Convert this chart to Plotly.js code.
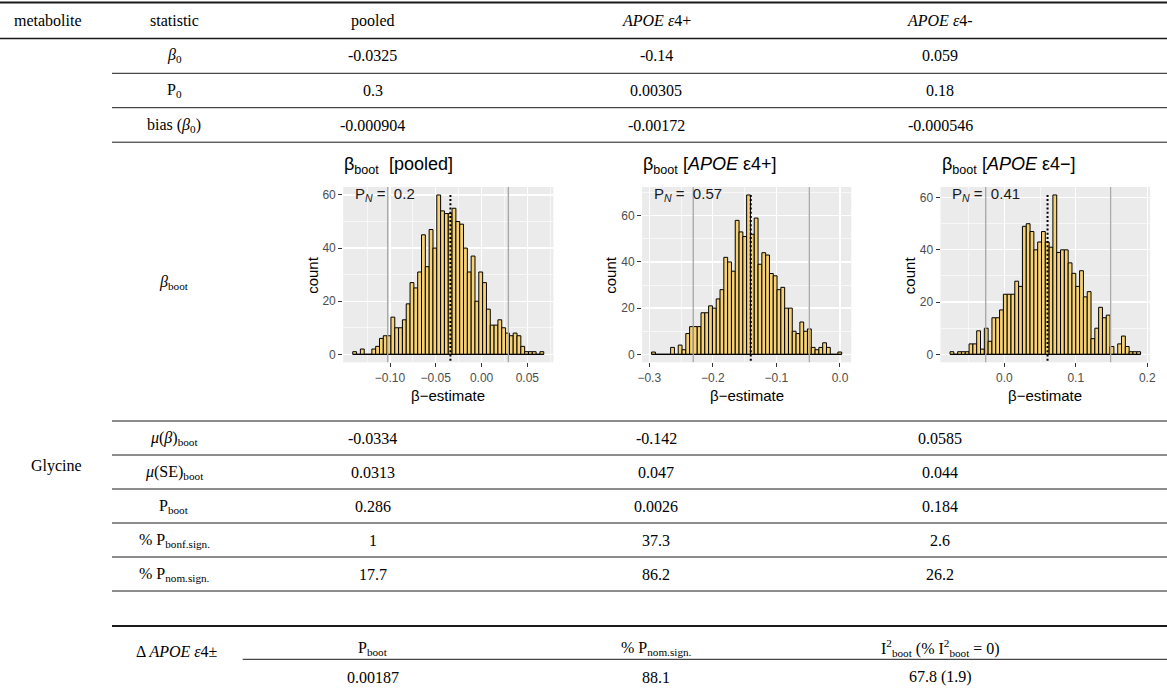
<!DOCTYPE html>
<html><head><meta charset="utf-8">
<script src="https://cdn.plot.ly/plotly-3.0.1.min.js"></script>
<style>html,body{margin:0;padding:0;background:#fff;}#chart{width:1167px;height:693px;}</style>
</head><body><div id="chart"></div>
<script>
// ---------------- data ----------------
const groups = ['pooled', 'APOE ε4+', 'APOE ε4-'];
const pooledCounts = [1,0,2,0,0,2,3,6,7,7,14,10,10,13,19,27,25,31,45,33,47,40,60,54,53,53,55,50,49,40,31,37,20,31,27,17,11,11,13,10,8,7,8,7,3,1,1,1,0,1];
const apoePlusCounts = [1,0,0,0,0,3,0,4,2,9,12,12,12,18,18,21,20,24,28,42,40,36,58,53,51,69,52,59,39,44,43,35,34,28,29,20,20,10,9,14,10,11,3,2,3,5,3,0,0,1];
const apoeMinusCounts = [1,0,1,1,1,4,4,9,2,10,5,14,14,17,23,23,23,28,26,49,50,47,40,43,47,43,41,61,39,40,40,35,31,26,32,22,24,6,10,18,14,15,3,0,4,7,3,1,1,1];
const binStart = [-0.1407, -0.2963, -0.0759];
const binWidth = [0.004173, 0.00598, 0.00533];
const ciLow = [-0.1025, -0.2308, -0.0260];
const ciHigh = [0.0293, -0.0483, 0.1488];
const centerLine = [-0.0340, -0.1403, 0.0605];
const pN = ['0.2', '0.57', '0.41'];
const xTickVals = [[-0.10,-0.05,0.00,0.05], [-0.3,-0.2,-0.1,0.0], [0.0,0.1,0.2]];
const xTickText = [['−0.10','−0.05','0.00','0.05'], ['−0.3','−0.2','−0.1','0.0'], ['0.0','0.1','0.2']];
const yTickVals = [0,20,40,60];
const yTickText = ['0','20','40','60'];
const plotTitles = ['β<sub>boot</sub>  [pooled]', 'β<sub>boot</sub> [<i>APOE</i> ε4+]', 'β<sub>boot</sub> [<i>APOE</i> ε4−]'];

const headerCols = ['metabolite', 'statistic', 'pooled', '<i>APOE ε</i>4+', '<i>APOE ε</i>4-'];
const metabolite = 'Glycine';
const topStats = ['<i>β</i><sub>0</sub>', 'P<sub>0</sub>', 'bias (<i>β</i><sub>0</sub>)'];
const topValues = [
  ['-0.0325', '-0.14', '0.059'],
  ['0.3', '0.00305', '0.18'],
  ['-0.000904', '-0.00172', '-0.000546']
];
const histStat = '<i>β</i><sub>boot</sub>';
const lowStats = ['<i>μ</i>(<i>β</i>)<sub>boot</sub>', '<i>μ</i>(SE)<sub>boot</sub>', 'P<sub>boot</sub>', '% P<sub>bonf.sign.</sub>', '% P<sub>nom.sign.</sub>'];
const lowValues = [
  ['-0.0334', '-0.142', '0.0585'],
  ['0.0313', '0.047', '0.044'],
  ['0.286', '0.0026', '0.184'],
  ['1', '37.3', '2.6'],
  ['17.7', '86.2', '26.2']
];
const deltaLabel = 'Δ <i>APOE ε</i>4±';
const deltaHeaders = ['P<sub>boot</sub>', '% P<sub>nom.sign.</sub>', 'I<sup>2</sup><sub>boot</sub> (% I<sup>2</sup><sub>boot</sub> = 0)'];
const deltaValues = ['0.00187', '88.1', '67.8 (1.9)'];

// ---------------- layout helpers ----------------
const W = 1167, H = 693;
const fx = p => p / W;
const fy = p => 1 - p / H;
const serif = 'Liberation Serif, DejaVu Serif, serif';
const sans = 'Liberation Sans, Arial, sans-serif';
const TXT = 16;

const colX = [48, 174, 373, 656, 940];
const panelL = [343.2, 642.1, 940.5];
const panelR = [553.3, 851.2, 1150.1];
const panelT = 187, panelB = 362.3;

const annotations = [];
const shapes = [];
function cell(text, x, y, size, extra) {
  annotations.push(Object.assign({
    text: text, x: fx(x), y: fy(y), xref: 'paper', yref: 'paper',
    xanchor: 'center', yanchor: 'middle', showarrow: false,
    font: {family: serif, size: size || TXT, color: '#000'}
  }, extra || {}));
}
function hline(y, x0, x1, w) {
  shapes.push({type: 'line', xref: 'paper', yref: 'paper', x0: fx(x0), x1: fx(x1), y0: fy(y), y1: fy(y),
    line: {color: '#1a1a1a', width: w}});
}

// header
headerCols.forEach((t, i) => cell(t, colX[i], 20.5));
hline(2.5, 0, W, 2);
hline(38.5, 0, W, 1.3);
// top rows
const topY = [55.5, 90.5, 125];
topStats.forEach((s, r) => {
  cell(s, colX[1], topY[r]);
  topValues[r].forEach((v, c) => cell(v, colX[c + 2], topY[r]));
});
[73.3, 107.7, 142.2].forEach(y => hline(y, 112, W, 1));
cell(histStat, colX[1], 282);
hline(421, 112, W, 1);
const lowY = [438, 472, 506, 540, 574];
lowStats.forEach((s, r) => {
  cell(s, colX[1], lowY[r]);
  lowValues[r].forEach((v, c) => cell(v, colX[c + 2], lowY[r]));
});
[455, 489, 523, 557, 591].forEach(y => hline(y, 112, W, 1));
cell(metabolite, 56, 466);
hline(626, 112, W, 2);
cell(deltaLabel, 177, 651.5);
deltaHeaders.forEach((t, i) => cell(t, colX[i + 2], 648));
hline(659.3, 242.7, W, 1);
deltaValues.forEach((t, i) => cell(t, colX[i + 2], 677));

// ---------------- histograms ----------------
const allCounts = [pooledCounts, apoePlusCounts, apoeMinusCounts];
const traces = [];
const layout = {
  width: W, height: H, margin: {l: 0, r: 0, t: 0, b: 0},
  paper_bgcolor: '#ffffff', plot_bgcolor: '#EBEBEB',
  showlegend: false, bargap: 0,
  annotations: annotations, shapes: shapes
};

allCounts.forEach((counts, i) => {
  const n = counts.length;
  const bw = binWidth[i];
  const x0 = binStart[i];
  const x1 = x0 + n * bw;
  const centers = counts.map((_, k) => x0 + (k + 0.5) * bw);
  const maxC = Math.max(...counts);
  const xr = [x0 - 0.05 * (x1 - x0), x1 + 0.05 * (x1 - x0)];
  const yr = [-0.05 * maxC, 1.05 * maxC];
  const sfx = i === 0 ? '' : String(i + 1);
  const xa = 'x' + sfx, ya = 'y' + sfx;

  traces.push({
    type: 'bar', x: centers, y: counts, width: bw, xaxis: xa, yaxis: ya,
    marker: {color: 'rgb(247,210,117)', line: {color: '#000', width: 1}},
    hoverinfo: 'x+y', name: groups[i]
  });

  const xs = xTickVals[i][1] - xTickVals[i][0];
  const xMinor = xTickVals[i].map(v => v - xs / 2).concat([xTickVals[i][xTickVals[i].length - 1] + xs / 2])
    .filter(v => v > xr[0] && v < xr[1]);
  const yMinor = [10, 30, 50, 70].filter(v => v < yr[1]);

  layout['xaxis' + sfx] = {
    domain: [fx(panelL[i]), fx(panelR[i])], anchor: ya, range: xr,
    tickmode: 'array', tickvals: xTickVals[i], ticktext: xTickText[i],
    ticks: 'outside', ticklen: 4, tickwidth: 1, tickcolor: '#333333',
    showgrid: true, gridcolor: '#ffffff', gridwidth: 1.3, zeroline: false, showline: false,
    minor: {tickmode: 'array', tickvals: xMinor, showgrid: true, gridcolor: '#ffffff', gridwidth: 0.6, ticks: ''},
    tickfont: {family: sans, size: 12, color: '#4D4D4D'}, fixedrange: true
  };
  layout['yaxis' + sfx] = {
    domain: [fy(panelB), fy(panelT)], anchor: xa, range: yr,
    tickmode: 'array', tickvals: yTickVals, ticktext: yTickText,
    ticks: 'outside', ticklen: 4, tickwidth: 1, tickcolor: '#333333',
    showgrid: true, gridcolor: '#ffffff', gridwidth: 1.3, zeroline: false, showline: false,
    minor: {tickmode: 'array', tickvals: yMinor, showgrid: true, gridcolor: '#ffffff', gridwidth: 0.6, ticks: ''},
    tickfont: {family: sans, size: 12, color: '#4D4D4D'}, fixedrange: true
  };

  // baseline of the bars
  shapes.push({type: 'line', xref: xa, yref: ya, x0: x0, x1: x1, y0: 0, y1: 0, layer: 'above',
    line: {color: '#000', width: 1}});
  // interval lines
  [ciLow[i], ciHigh[i]].forEach(v => shapes.push({type: 'line', xref: xa, yref: ya + ' domain',
    x0: v, x1: v, y0: 0, y1: 1, layer: 'above', line: {color: '#A6A6A6', width: 1.3}}));
  // dotted centre line
  shapes.push({type: 'line', xref: xa, yref: ya, x0: centerLine[i], x1: centerLine[i],
    y0: -0.04 * maxC, y1: maxC, layer: 'above', line: {color: '#000', width: 2, dash: '2px,2.2px'}});

  // P_N label
  annotations.push({text: 'P<sub><i>N</i></sub> =\u00A0\u00A0' + pN[i], xref: xa, yref: ya, x: x0, y: maxC,
    xanchor: 'left', yanchor: 'middle', showarrow: false, font: {family: sans, size: 15, color: '#1a1a1a'}});
  // plot title
  annotations.push({text: plotTitles[i], xref: 'paper', yref: 'paper', x: fx(panelL[i] - 1), y: fy(166),
    xanchor: 'left', yanchor: 'middle', showarrow: false, font: {family: sans, size: 18, color: '#000'}});
  // axis titles
  annotations.push({text: 'count', xref: 'paper', yref: 'paper', x: fx(panelL[i] - 31), y: fy((panelT + panelB) / 2),
    xanchor: 'center', yanchor: 'middle', textangle: -90, showarrow: false, font: {family: sans, size: 15, color: '#000'}});
  annotations.push({text: 'β−estimate', xref: 'paper', yref: 'paper', x: fx((panelL[i] + panelR[i]) / 2), y: fy(395),
    xanchor: 'center', yanchor: 'middle', showarrow: false, font: {family: sans, size: 15, color: '#000'}});
});

Plotly.newPlot('chart', traces, layout, {displayModeBar: false, staticPlot: true});
</script></body></html>
